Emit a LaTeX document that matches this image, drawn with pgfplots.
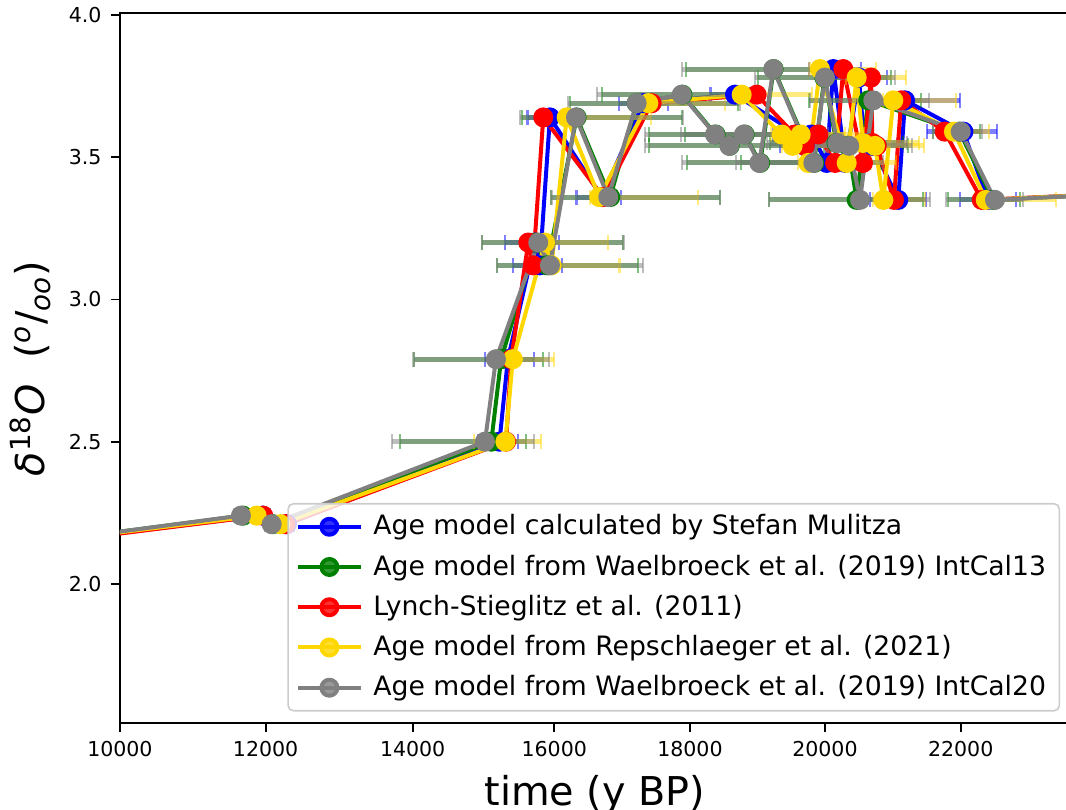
\documentclass[border=0pt]{standalone}
\usepackage{pgfplots}
\pgfplotsset{compat=1.18}
\usepackage{pgfplotstable}
\usepackage{fontspec}
\setmainfont{DejaVu Sans}

\definecolor{mblue}{HTML}{0000FF}
\definecolor{mgreen}{HTML}{008000}
\definecolor{mred}{HTML}{FF0000}
\definecolor{mgold}{HTML}{FFD700}
\definecolor{mgray}{HTML}{808080}

% x = age, y = d18O, em/ep = lower/upper age error
\pgfplotstableread{
x y em ep
9000 2.15 0 0
11960 2.24 100 100
12290 2.21 100 100
15226 2.50 300 260
15345 2.79 325 375
15727 3.20 427 343
15795 3.12 380 315
15939 3.64 320 350
16700 3.36 360 280
17312 3.69 350 350
18667 3.72 350 350
19600 3.58 350 350
19700 3.54 350 350
19800 3.58 350 350
20025 3.48 350 350
20123 3.81 350 400
20300 3.48 350 350
20500 3.78 350 400
20580 3.55 350 350
20700 3.54 350 350
21080 3.35 400 400
21180 3.70 400 780
22040 3.59 520 480
22400 3.35 400 400
25000 3.38 0 0
}\blueT

\pgfplotstableread{
x y em ep
9000 2.15 0 0
11690 2.24 100 140
12100 2.21 100 140
15110 2.50 1300 500
15250 2.79 1250 600
15740 3.20 765 1250
15900 3.12 720 1300
16330 3.64 780 1500
16825 3.36 840 1565
17214 3.69 950 1450
17890 3.72 1150 950
18380 3.58 950 1250
18590 3.54 1150 1350
18810 3.58 850 1150
19040 3.48 1050 1250
19240 3.81 1250 850
19840 3.48 1050 950
19990 3.78 950 950
20170 3.55 950 950
20340 3.54 850 850
20467 3.35 1250 950
20638 3.70 850 750
21980 3.59 380 300
22480 3.35 650 380
25000 3.38 0 0
}\greenT

\pgfplotstableread{
x y
9000 2.145
11967 2.24
12270 2.21
15320 2.50
15392 2.79
15633 3.20
15700 3.12
15845 3.64
16720 3.36
17436 3.69
18988 3.72
19550 3.58
19700 3.54
19900 3.58
20150 3.48
20270 3.81
20560 3.48
20678 3.78
20700 3.55
20763 3.54
21017 3.35
21123 3.70
21764 3.59
22310 3.35
25000 3.38
}\redT

\pgfplotstableread{
x y em ep
9000 2.15 0 0
11877 2.24 100 150
12200 2.21 100 150
15310 2.50 450 510
15415 2.79 300 585
15870 3.20 150 900
15962 3.12 150 970
16183 3.64 150 1200
16663 3.36 133 1411
17386 3.69 150 1100
18766 3.72 150 1000
19358 3.58 150 900
19521 3.54 150 800
19640 3.58 150 900
19752 3.48 150 900
19926 3.81 150 800
20320 3.48 150 700
20467 3.78 150 700
20560 3.55 150 800
20737 3.54 150 700
20860 3.35 150 600
21007 3.70 150 900
21900 3.59 150 500
22370 3.35 150 1000
25000 3.38 0 0
}\goldT

\pgfplotstableread{
x y em ep
9000 2.15 0 0
11661 2.24 100 150
12082 2.21 100 150
15021 2.50 1330 700
15177 2.79 1177 760
15774 3.20 800 1216
15939 3.12 760 1330
16320 3.64 805 1533
16796 3.36 811 1594
17214 3.69 984 1476
17878 3.72 1203 1000
18370 3.58 1000 1300
18584 3.54 1200 1400
18800 3.58 900 1200
19027 3.48 1100 1300
19234 3.81 1300 900
19827 3.48 1100 1000
20000 3.78 1000 1000
20181 3.55 1000 1000
20358 3.54 900 900
20516 3.35 1300 1000
20712 3.70 900 800
22000 3.59 400 300
22505 3.35 700 400
25000 3.38 0 0
}\grayT

\pgfplotsset{
  ser/.style={color=#1, line width=1.5pt, line join=round, mark=*, mark size=3pt,
    mark options={solid, fill=#1, draw=#1}},
  ebar/.style={error bars/.cd, x dir=both, x explicit,
    error bar style={line width=1.9pt, opacity=0.5},
    error mark options={line width=0.8pt, mark size=2.8pt, opacity=0.5, rotate=90}},
}

\begin{document}
\begin{tikzpicture}
\begin{axis}[
  scale only axis,
  width=356.5pt, height=266.4pt,
  % the time axis of the original is slightly uneven between its ticks
  x coord trafo/.code={\pgfkeys{/pgf/fpu=true,/pgf/fpu/output format=fixed}%
    \pgfmathparse{ifthenelse(#1<12000, 10000+(#1-10000)*1.03985,
      ifthenelse(#1<14000, 12079.7+(#1-12000)*1.04915,
      ifthenelse(#1<16000, 14178+(#1-14000)*1.0105,
      ifthenelse(#1<18000, 16199+(#1-16000)*0.9685,
      ifthenelse(#1<20000, 18136+(#1-18000)*0.9635,
      20063+(#1-20000)*0.9685)))))}%
    \pgfkeys{/pgf/fpu=false}},
  xmin=10000, xmax=23611, ymin=1.51, ymax=4.006,
  xtick={10000,12000,14000,16000,18000,20000,22000},
  xticklabels={10000,12000,14000,16000,18000,20000,22000},
  ytick={2.0,2.5,3.0,3.5,4.0},
  scaled x ticks=false,
  /pgf/number format/assume math mode=true,
  yticklabel style={/pgf/number format/.cd, fixed, fixed zerofill, precision=1},
  tick label style={font=\fontsize{7.7}{9}\selectfont},
  tick align=outside, xtick pos=left, ytick pos=left,
  major tick length=3.4pt,
  every tick/.style={black, line width=0.7pt},
  axis line style={line width=0.8pt},
  label style={font=\fontsize{14.9}{17}\selectfont},
  xlabel={time (y BP)},
  ylabel={{\itshape δ}\textsuperscript{18}{\itshape O}\ \ (\textsuperscript{\itshape o}/\textsubscript{\itshape oo})},
  legend style={at={(1,0)}, anchor=south east, xshift=-3.7pt, yshift=4.4pt,
    font=\fontsize{10}{12}\selectfont, draw=black!20, line width=0.6pt,
    fill=white, fill opacity=0.8, text opacity=1, rounded corners=2pt,
    row sep=2.0pt, inner xsep=3pt, inner ysep=2.1pt,
    /tikz/every odd column/.append style={column sep=2pt}},
  legend cell align=left,
  legend image code/.code={\draw[mark repeat=2, mark phase=2, #1]
    plot coordinates {(0pt,0pt) (11.75pt,0pt) (23.5pt,0pt)};},
]
\addplot[ser=mblue, ebar] table[x=x, y=y, x error minus=em, x error plus=ep] {\blueT};
\addlegendentry{Age model calculated by Stefan Mulitza}
\addplot[ser=mgreen, ebar] table[x=x, y=y, x error minus=em, x error plus=ep] {\greenT};
\addlegendentry{Age model from Waelbroeck et al. (2019) IntCal13}
\addplot[ser=mred] table[x=x, y=y] {\redT};
\addlegendentry{Lynch-Stieglitz et al. (2011)}
\addplot[ser=mgold, ebar] table[x=x, y=y, x error minus=em, x error plus=ep] {\goldT};
\addlegendentry{Age model from Repschlaeger et al. (2021)}
\addplot[ser=mgray, ebar] table[x=x, y=y, x error minus=em, x error plus=ep] {\grayT};
\addlegendentry{Age model from Waelbroeck et al. (2019) IntCal20}
\end{axis}
\pgfresetboundingbox
\path[use as bounding box] ([xshift=-45pt, yshift=-32.5pt]current axis.south west)
  rectangle ([xshift=-1.5pt, yshift=5pt]current axis.north east);
\end{tikzpicture}
\end{document}
